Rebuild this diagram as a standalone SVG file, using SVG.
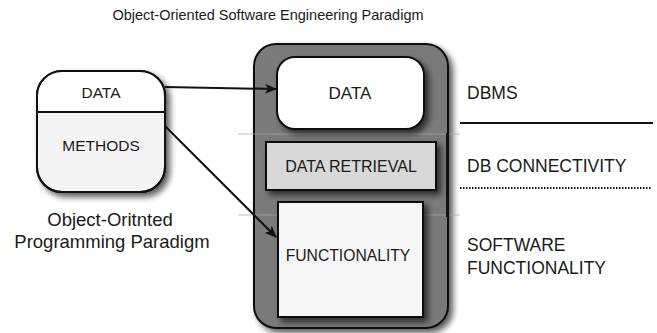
<svg xmlns="http://www.w3.org/2000/svg" width="657" height="333" viewBox="0 0 657 333">
<defs>
<style>
text{font-family:"Liberation Sans",Arial,sans-serif;fill:#1a1a1a;text-anchor:middle}
.lbl{text-anchor:start;font-size:17.5px}
.box{stroke:#111;stroke-width:2}
</style>
<filter id="sh" x="-20%" y="-20%" width="150%" height="150%">
<feGaussianBlur in="SourceAlpha" stdDeviation="3"/>
<feOffset dx="4" dy="4" result="b"/>
<feComponentTransfer><feFuncA type="linear" slope="0.65"/></feComponentTransfer>
<feMerge><feMergeNode/><feMergeNode in="SourceGraphic"/></feMerge>
</filter>
<marker id="ar" markerWidth="12" markerHeight="10" refX="11" refY="5" orient="auto" markerUnits="userSpaceOnUse">
<path d="M0,0 L12,5 L0,10 L3,5 Z" fill="#111"/>
</marker>
</defs>
<rect width="657" height="333" fill="#fff"/>
<text x="268" y="20" font-size="14.5">Object-Oriented Software Engineering Paradigm</text>

<g id="oop">
<g filter="url(#sh)">
<path d="M62,71 H140 A25,25 0 0 1 165,96 V167 A25,25 0 0 1 140,192 H62 A25,25 0 0 1 37,167 V96 A25,25 0 0 1 62,71 Z" fill="#f4f4f4" class="box"/>
</g>
<path d="M37,112 V96 A25,25 0 0 1 62,71 H140 A25,25 0 0 1 165,96 V112 Z" fill="#fff"/>
<rect x="37" y="71" width="128" height="121" rx="25" fill="none" class="box"/>
<line x1="37" y1="112" x2="165" y2="112" stroke="#111" stroke-width="2"/>
<text x="101" y="98" font-size="15.5">DATA</text>
<text x="101" y="151" font-size="15.5">METHODS</text>
<text x="110" y="226" font-size="18.5">Object-Oritnted</text>
<text x="112" y="248" font-size="18.5">Programming Paradigm</text>
</g>

<g id="container">
<rect x="254" y="44" width="194" height="284" rx="22" fill="#7a7a7a" class="box" filter="url(#sh)"/>
<line x1="238" y1="134" x2="460" y2="134" stroke="#a8a8a8" stroke-width="1" opacity="0.7"/>
<line x1="238" y1="215" x2="460" y2="215" stroke="#a8a8a8" stroke-width="1" opacity="0.7"/>
<rect x="446" y="133" width="3" height="84" fill="#111"/>
</g>

<g id="data">
<rect x="277" y="57" width="147" height="72" rx="18" fill="#fff" class="box" filter="url(#sh)"/>
<text x="350" y="99" font-size="17">DATA</text>
</g>

<g id="retrieval">
<rect x="266" y="142" width="170" height="48" fill="#d8d8d8" class="box" filter="url(#sh)"/>
<text x="351" y="172" font-size="16">DATA RETRIEVAL</text>
</g>

<g id="functionality">
<rect x="278" y="202" width="145" height="115" fill="#f6f6f6" class="box" filter="url(#sh)"/>
<text x="348" y="261" font-size="15.7">FUNCTIONALITY</text>
</g>

<g id="labels">
<text class="lbl" x="467" y="99">DBMS</text>
<line x1="460" y1="123" x2="653" y2="123" stroke="#111" stroke-width="2"/>
<text class="lbl" x="467" y="172">DB CONNECTIVITY</text>
<line x1="460" y1="188" x2="652" y2="188" stroke="#111" stroke-width="2" stroke-dasharray="1.5,1.5"/>
<text class="lbl" x="467" y="251">SOFTWARE</text>
<text class="lbl" x="467" y="274">FUNCTIONALITY</text>
</g>

<g id="connectors" stroke="#111" stroke-width="2" fill="none">
<line x1="165" y1="87" x2="276" y2="89" marker-end="url(#ar)"/>
<line x1="165" y1="126" x2="276" y2="237" marker-end="url(#ar)"/>
</g>
</svg>
